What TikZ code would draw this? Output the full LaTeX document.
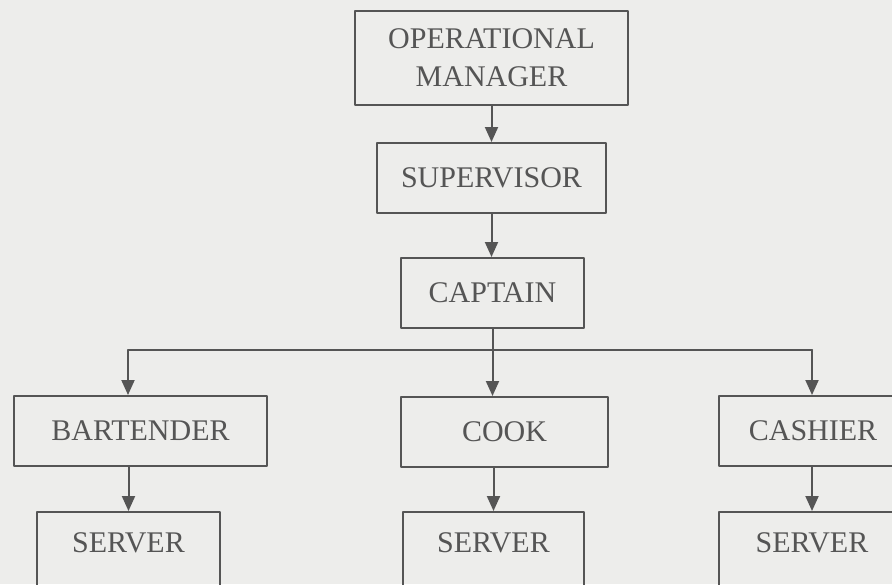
\documentclass[tikz,border=0pt]{standalone}
\usepackage{fontspec}
\setmainfont{Liberation Serif}
\usetikzlibrary{arrows.meta,positioning}
\definecolor{PaperGray}{HTML}{EDEDEB}
\definecolor{InkGray}{HTML}{555555}

\begin{document}
\begin{tikzpicture}[x=0.5pt,y=-0.5pt,line cap=round,line join=round,
  box/.style={draw=InkGray,line width=1pt,inner sep=0pt,minimum height=35pt,text=InkGray,font=\fontsize{15}{19}\selectfont,align=center},
  lowbox/.style={box,minimum height=40pt,text depth=9pt},
  arr/.style={draw=InkGray,line width=1pt,-{Triangle[width=6.5pt,length=7.5pt]}}]
  \fill[PaperGray] (0,0) rectangle (892,584);
  \clip (0,0) rectangle (892,584);
  \node[box,minimum width=136.5pt,minimum height=47pt] (om) at (491.5,58) {OPERATIONAL\\MANAGER};
  \node[box,minimum width=114.5pt] (sup) at (491.5,178) {SUPERVISOR};
  \node[box,minimum width=91.5pt] (cap) at (492.5,293) {CAPTAIN};
  \node[box,minimum width=126.5pt] (bar) at (140.5,431) {BARTENDER};
  \node[box,minimum width=103.5pt] (cook) at (504.5,432) {COOK};
  \node[box,minimum width=94pt] (cash) at (813,431) {CASHIER};
  \node[lowbox,minimum width=91.5pt] (srvA) at (128.5,552) {SERVER};
  \node[lowbox,minimum width=90.5pt] (srvB) at (493.5,552) {SERVER};
  \node[lowbox,minimum width=93pt] (srvC) at (812,552) {SERVER};
  \coordinate (busA) at (128,350);\coordinate (busC) at (812,350);
  \draw[arr] (om.south) -- (om.south |- sup.north);
  \draw[arr] (sup.south) -- (sup.south |- cap.north);
  \draw[arr] (cap.south) -- (cap.south |- cook.north);
  \draw[InkGray,line width=1pt] (busA) -- (busC);
  \draw[arr] (busA) -- (busA |- bar.north);
  \draw[arr] (busC) -- (busC |- cash.north);
  \draw[arr] (bar.south -| srvA.north) -- (srvA.north);
  \draw[arr] (cook.south -| srvB.north) -- (srvB.north);
  \draw[arr] (cash.south -| srvC.north) -- (srvC.north);
\end{tikzpicture}
\end{document}
